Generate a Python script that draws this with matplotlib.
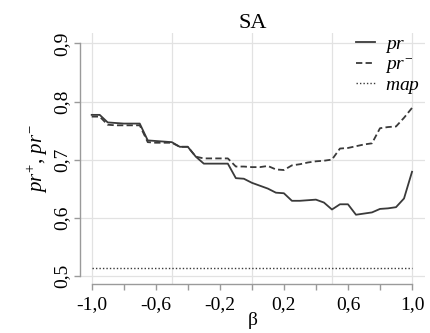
import matplotlib
matplotlib.use("Agg")
import matplotlib.pyplot as plt
import numpy as np

# beta values (step 0.05)
beta = np.round(np.arange(-1.0, 1.0001, 0.05), 2)

pr_plus = [0.777, 0.777, 0.764, 0.763, 0.762, 0.762, 0.762, 0.733, 0.732, 0.731,
           0.730, 0.722, 0.722, 0.705, 0.693, 0.693, 0.693, 0.693, 0.668, 0.667,
           0.660, 0.655, 0.650, 0.643, 0.642, 0.629, 0.629, 0.630, 0.631, 0.626,
           0.614, 0.623, 0.623, 0.605, 0.607, 0.609, 0.615, 0.616, 0.618, 0.633,
           0.679]
pr_minus = [0.774, 0.774, 0.760, 0.759, 0.759, 0.759, 0.759, 0.730, 0.729, 0.729,
            0.729, 0.722, 0.722, 0.705, 0.702, 0.702, 0.702, 0.702, 0.688, 0.688,
            0.687, 0.687, 0.689, 0.683, 0.682, 0.690, 0.692, 0.695, 0.697, 0.698,
            0.700, 0.719, 0.720, 0.723, 0.726, 0.728, 0.754, 0.756, 0.757, 0.772,
            0.789]
map_value = 0.514

x_ticks = [-1.0, -0.8, -0.6, -0.4, -0.2, 0.0, 0.2, 0.4, 0.6, 0.8, 1.0]
x_labels = ["-1,0", "", "-0,6", "", "-0,2", "", "0,2", "", "0,6", "", "1,0"]
y_ticks = [0.5, 0.6, 0.7, 0.8, 0.9]
y_labels = ["0,5", "0,6", "0,7", "0,8", "0,9"]

plt.rcParams['font.family'] = ['Liberation Serif', 'DejaVu Serif']
plt.rcParams['mathtext.fontset'] = 'custom'
plt.rcParams['mathtext.rm'] = 'Liberation Serif'
plt.rcParams['mathtext.it'] = 'Liberation Serif:italic'

fig = plt.figure(figsize=(4.30, 3.33), dpi=100)
ax = fig.add_axes([80 / 430, 49 / 333, 345 / 430, 251 / 333])

line_col = '#3a3a3a'
ax.plot(beta, pr_plus, color=line_col, lw=1.3, ls='-', label=r'$pr$')
ax.plot(beta, pr_minus, color=line_col, lw=1.3, ls=(0, (3.5, 1.8)), label=r'$pr^{-}$')
ax.plot(beta, [map_value] * len(beta), color=line_col, lw=1.0, ls=(0, (1, 1.5)), label=r'$map$')

ax.set_xlim(-1.073, 1.081)
ax.set_ylim(0.4857, 0.918)

# grid
for gx in [-1.0, -0.5, 0.0, 0.5, 1.0]:
    ax.axvline(gx, color='#e2e2e2', lw=0.9, zorder=0)
for gy in y_ticks:
    ax.axhline(gy, color='#e2e2e2', lw=0.9, zorder=0)

for side in ['top', 'right']:
    ax.spines[side].set_visible(False)
ax.spines['left'].set_bounds(0.5, 0.9)
ax.spines['bottom'].set_bounds(-1.0, 1.0)
ax.spines['left'].set_color('#9a9a9a')
ax.spines['bottom'].set_color('#9a9a9a')
ax.spines['left'].set_linewidth(1.0)
ax.spines['bottom'].set_linewidth(1.0)

ax.set_xticks(x_ticks)
ax.set_xticklabels(x_labels, fontsize=14)
ax.set_yticks(y_ticks)
ax.set_yticklabels(y_labels, fontsize=14, rotation=90, va='center')
ax.tick_params(axis='x', color='#9a9a9a', length=4, width=1.0, pad=5)
ax.tick_params(axis='y', color='#9a9a9a', length=4, width=1.0, pad=3)

ax.set_title("SA", fontsize=16, pad=2)
ax.set_xlabel("β", fontsize=14, labelpad=-1)
ax.set_ylabel(r'$pr^{+}$, $pr^{-}$', fontsize=15, labelpad=2)

ax.legend(loc='upper right', bbox_to_anchor=(1.025, 1.045), frameon=False,
          fontsize=14, handlelength=1.0, handletextpad=0.5, labelspacing=0.05,
          borderpad=0.2)

fig.savefig("out.png", dpi=100)
